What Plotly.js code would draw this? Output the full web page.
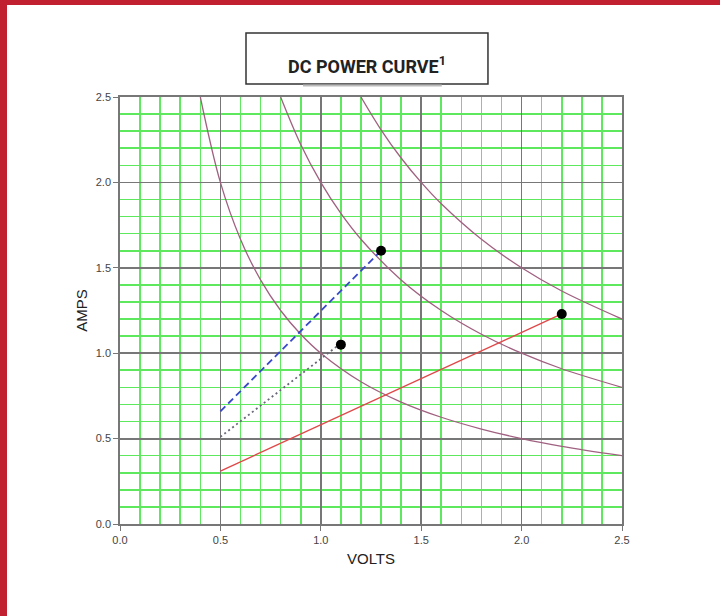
<!DOCTYPE html>
<html>
<head>
<meta charset="utf-8">
<script src="https://cdn.plot.ly/plotly-3.0.1.min.js"></script>
<style>
html,body{margin:0;padding:0;background:#fff;}
#wrap{position:relative;width:720px;height:616px;overflow:hidden;background:#fff;}
#chart{position:absolute;left:0;top:0;width:720px;height:616px;}
#barTop{position:absolute;left:0;top:0;width:720px;height:5px;background:#c0202f;}
#barLeft{position:absolute;left:0;top:0;width:7px;height:616px;background:#c0202f;}
</style>
</head>
<body>
<div id="wrap">
<div id="chart"></div>
<div id="barTop"></div>
<div id="barLeft"></div>
</div>
<script>
// Constant-power curves (volts, amps)
const p1Volts = [0.4, 0.5, 0.6, 0.7, 0.8, 0.9, 1.0, 1.2, 1.4, 1.6, 1.8, 2.0, 2.2, 2.5];
const p1Amps  = [2.5, 2.0, 1.667, 1.429, 1.25, 1.111, 1.0, 0.833, 0.714, 0.625, 0.556, 0.5, 0.455, 0.4];
const p2Volts = [0.8, 0.9, 1.0, 1.1, 1.2, 1.4, 1.6, 1.8, 2.0, 2.2, 2.5];
const p2Amps  = [2.5, 2.222, 2.0, 1.818, 1.667, 1.429, 1.25, 1.111, 1.0, 0.909, 0.8];
const p3Volts = [1.2, 1.3, 1.4, 1.5, 1.6, 1.8, 2.0, 2.2, 2.5];
const p3Amps  = [2.5, 2.308, 2.143, 2.0, 1.875, 1.667, 1.5, 1.364, 1.2];

// Load lines
const blueVolts = [0.5, 1.3];
const blueAmps  = [0.66, 1.6];
const dotVolts  = [0.5, 1.08];
const dotAmps   = [0.51, 1.04];
const redVolts  = [0.5, 2.2];
const redAmps   = [0.31, 1.23];

// Operating points
const ptVolts = [1.3, 1.1, 2.2];
const ptAmps  = [1.6, 1.05, 1.23];

const curveColor = '#a06080';
const traces = [
  {x: p1Volts, y: p1Amps, mode: 'lines', line: {color: curveColor, width: 1.3, shape: 'spline'}},
  {x: p2Volts, y: p2Amps, mode: 'lines', line: {color: curveColor, width: 1.3, shape: 'spline'}},
  {x: p3Volts, y: p3Amps, mode: 'lines', line: {color: curveColor, width: 1.3, shape: 'spline'}},
  {x: blueVolts, y: blueAmps, mode: 'lines', line: {color: '#3848c8', width: 1.8, dash: '7px,4px'}},
  {x: dotVolts, y: dotAmps, mode: 'lines', line: {color: '#667', width: 1.8, dash: '2px,3px'}},
  {x: redVolts, y: redAmps, mode: 'lines', line: {color: '#e04848', width: 1.4}},
  {x: ptVolts, y: ptAmps, mode: 'markers', marker: {color: '#000', size: 10}}
];

const axisCommon = {
  range: [0, 2.5],
  dtick: 0.5,
  tickformat: '.1f',
  showgrid: true,
  gridcolor: '#777',
  gridwidth: 1.8,
  zeroline: false,
  showline: true,
  linecolor: '#777',
  linewidth: 1.8,
  ticks: 'outside',
  ticklen: 5,
  tickcolor: '#777',
  tickfont: {family: 'Liberation Sans, Arial, sans-serif', size: 11, color: '#444'},
  minor: {dtick: 0.1, showgrid: true, gridcolor: '#5ee85e', gridwidth: 1.6, ticks: ''},
  mirror: true,
  fixedrange: true
};

const layout = {
  width: 720, height: 616,
  margin: {l: 120, r: 98, t: 97, b: 92},
  paper_bgcolor: '#fff',
  plot_bgcolor: '#fff',
  showlegend: false,
  xaxis: Object.assign({}, axisCommon, {
    title: {text: 'VOLTS', font: {family: 'Liberation Sans, Arial, sans-serif', size: 15, color: '#222'}, standoff: 8}
  }),
  yaxis: Object.assign({}, axisCommon, {
    title: {text: 'AMPS', font: {family: 'Liberation Sans, Arial, sans-serif', size: 15, color: '#222'}, standoff: 4}
  }),
  shapes: [
    {type: 'rect', xref: 'paper', yref: 'paper', x0: 0.251, x1: 0.733, y0: 1.0304, y1: 1.15,
     line: {color: '#333', width: 1.5}, fillcolor: 'rgba(0,0,0,0)'},
    {type: 'line', xref: 'paper', yref: 'paper', x0: 0.3645, x1: 0.641, y0: 1.027, y1: 1.027,
     line: {color: '#bbb', width: 2}}
  ],
  annotations: [
    {xref: 'paper', yref: 'paper', x: 0.492, y: 1.075, xanchor: 'center', yanchor: 'middle',
     text: 'DC POWER CURVE<sup>1</sup>', showarrow: false,
     font: {family: 'Roboto, sans-serif', size: 18, color: '#222', weight: 'bold'}}
  ]
};

Plotly.newPlot('chart', traces, layout, {displayModeBar: false, staticPlot: true});
</script>
</body>
</html>
